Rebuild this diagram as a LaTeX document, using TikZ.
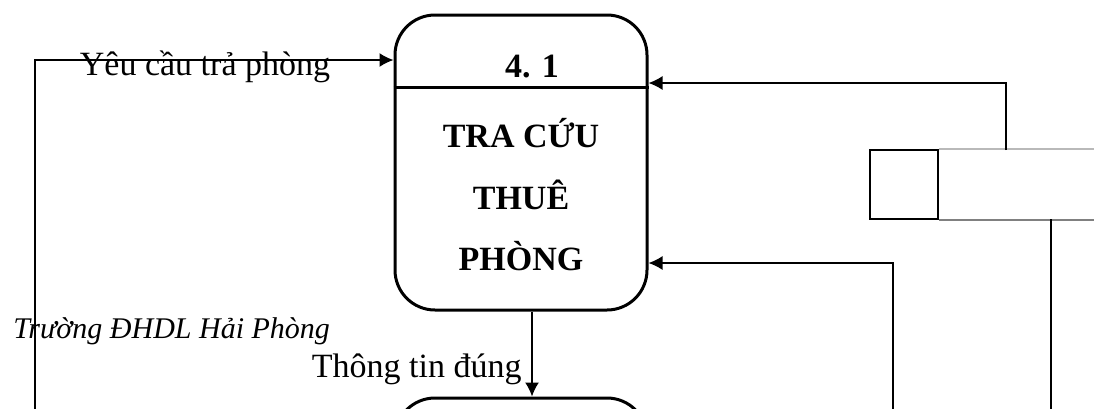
\documentclass[tikz,border=0pt]{standalone}
\usepackage{fontspec}
\setmainfont{Liberation Serif}
\usetikzlibrary{arrows.meta}

\tikzstyle{process} = [draw, line width=1.5pt, rounded corners=20pt, minimum width=126pt, minimum height=147.5pt]
\tikzstyle{store} = [draw, line width=0.8pt, minimum width=34pt, minimum height=34.5pt]
\tikzstyle{flow} = [line width=0.8pt, -{Latex[length=7pt,width=7pt]}]
\tikzstyle{flowtext} = [inner sep=0pt, font=\fontsize{17pt}{20pt}\selectfont]
\tikzstyle{numtext} = [inner sep=0pt, font=\fontsize{17pt}{20pt}\selectfont\bfseries]
\tikzstyle{proctext} = [inner sep=0pt, align=center, font=\fontsize{17pt}{30.75pt}\selectfont\bfseries]

\begin{document}
\begin{tikzpicture}[x=0.5pt,y=-0.5pt]
            \useasboundingbox (0,0) rectangle (1094,408);

            % rows and free ends of the flows
            \coordinate (rowreq) at (0,60);
            \coordinate (rowdiv) at (0,87);
            \coordinate (rowtop) at (0,83);
            \coordinate (rowbot) at (0,263);
            \coordinate (colmid) at (532,0);
            \coordinate (leftin) at (35,420);
            \coordinate (botin) at (893,420);
            \coordinate (dsout) at (1006,150);
            \coordinate (dsdown) at (1051,219);
            \coordinate (dsend) at (1051,420);

            % processes
            \node [process] at (521,162.5) (p41) {};
            \node [process] at (521,545.5) (p42) {};
            \draw [line width=1.5pt] (p41.west |- rowdiv) -- (p41.east |- rowdiv);
            \node [numtext, anchor=base] at (532,77) (n41) {4. 1};
            \node [proctext] at (521,195) (t41) {TRA CỨU\\THUÊ\\PHÒNG};

            % data store, open on the right
            \node [store] at (904,184.5) (ds) {};
            \draw [line width=0.8pt, gray!55] (ds.north east) -- ++(156,0);
            \draw [line width=0.8pt, gray] (ds.south east) -- ++(156,0);

            % flows
            \draw [flow] (leftin) |- (p41.west |- rowreq);
            \draw [flow] (dsout) |- (p41.east |- rowtop);
            \draw [flow] (botin) |- (p41.east |- rowbot);
            \draw [line width=0.8pt] (dsdown) -- (dsend);
            \draw [flow] (p41.south -| colmid) -- (p42.north -| colmid);

            % labels
            \node [flowtext, anchor=base] at (205,75) (lreq) {Yêu cầu trả phòng};
            \node [flowtext, anchor=base east] at (522,377) (lok) {Thông tin đúng};
            \node [inner sep=0pt, anchor=base west, font=\fontsize{15pt}{18pt}\selectfont\itshape] at (13,338) (lsch) {Trường ĐHDL Hải Phòng};
\end{tikzpicture}
\end{document}
